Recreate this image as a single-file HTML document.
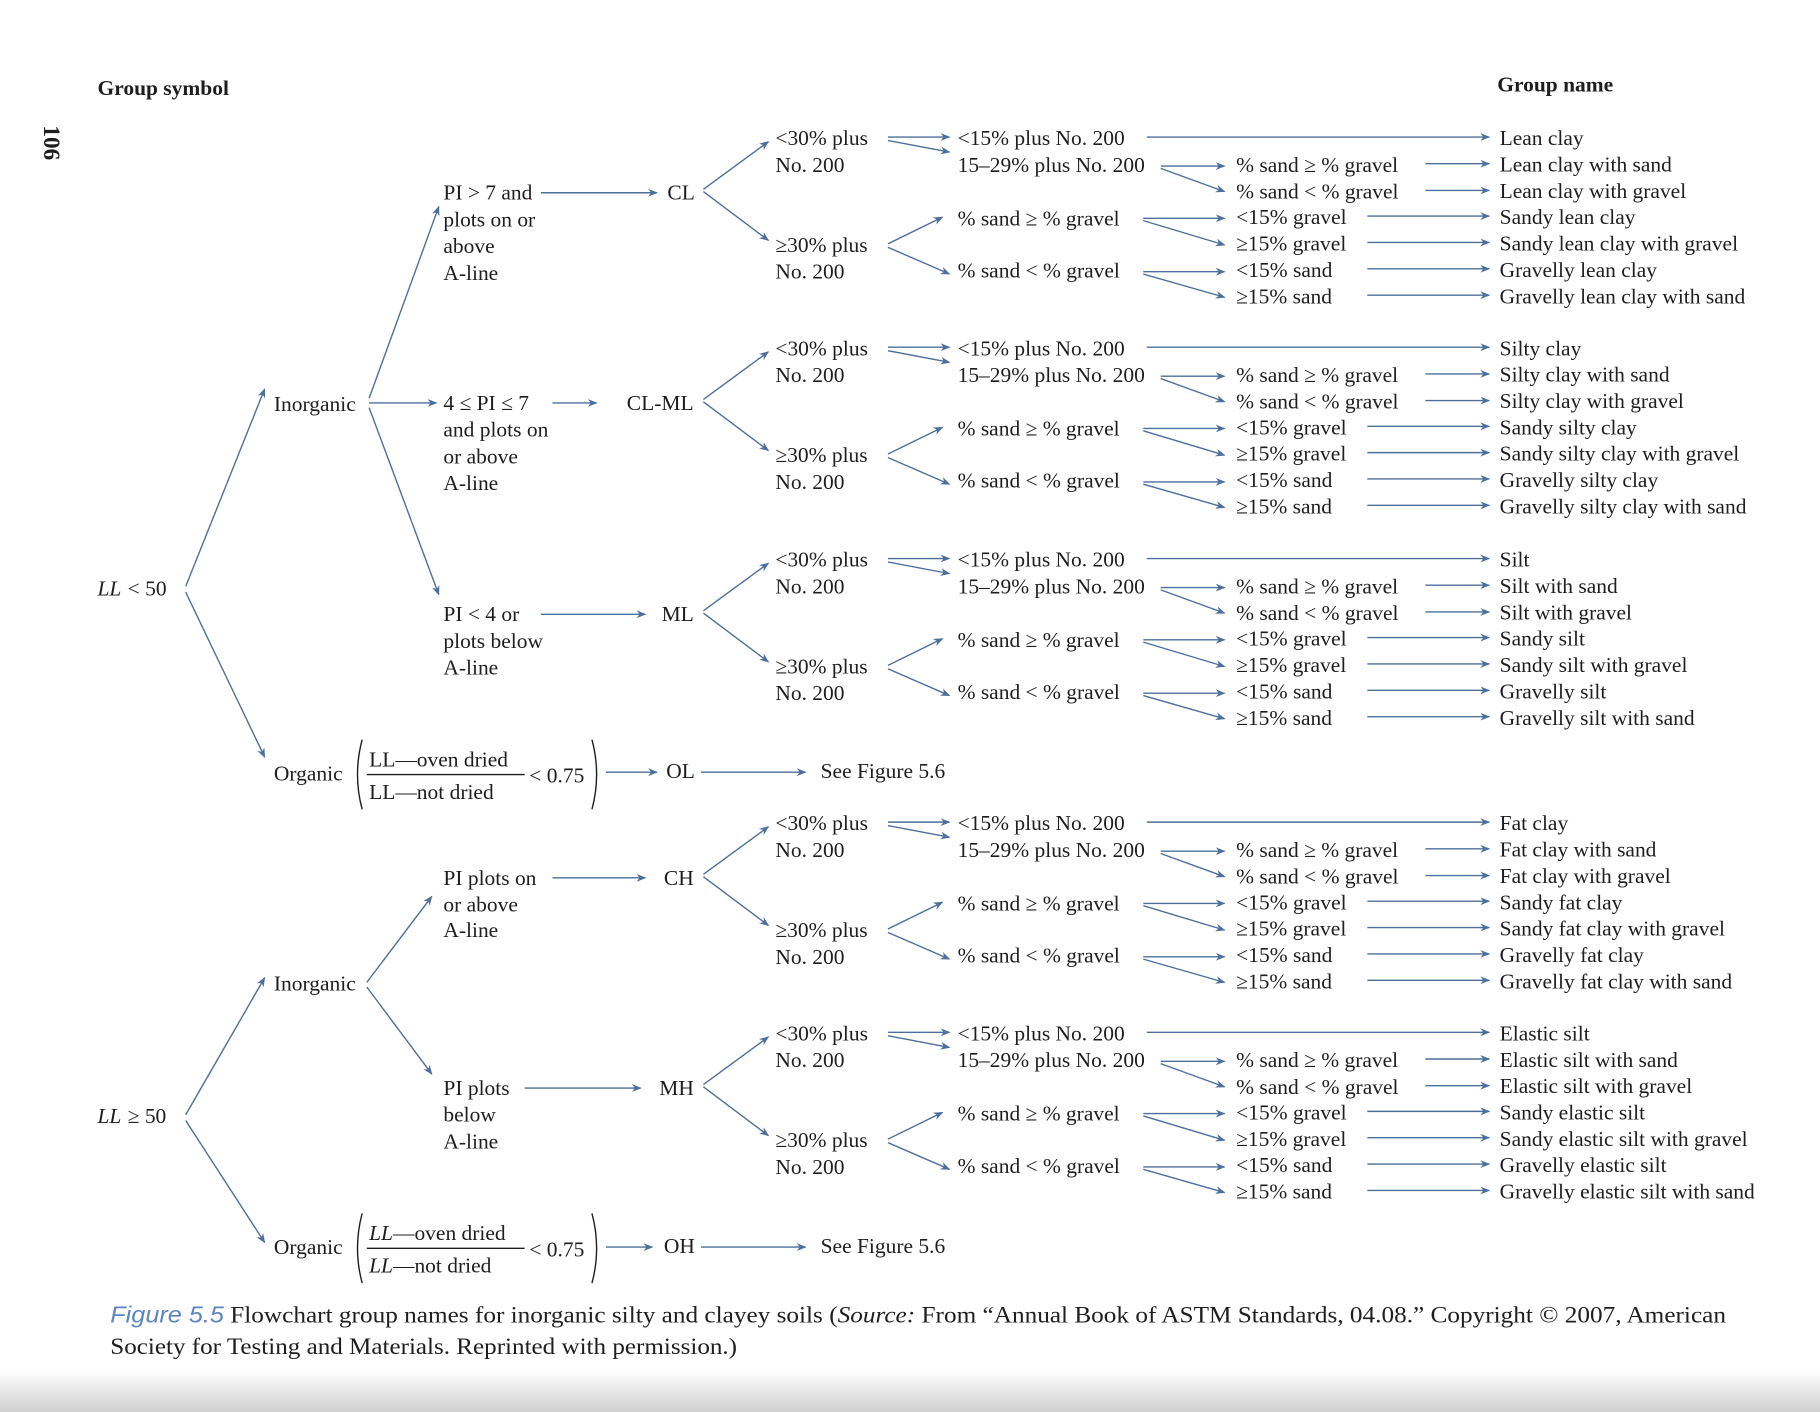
<!DOCTYPE html>
<html><head><meta charset="utf-8">
<style>
html,body{margin:0;padding:0;background:#fff;}
svg{display:block;}
text{font-family:"Liberation Serif",serif;font-size:18.5px;fill:#1e1e1e;}
</style></head>
<body>
<svg id="s" width="1820" height="1412" viewBox="0 0 1568 1216" preserveAspectRatio="none" xmlns="http://www.w3.org/2000/svg">
<defs><marker id="a" viewBox="0 0 10 10" refX="9" refY="5" markerWidth="7" markerHeight="7" orient="auto"><path d="M0,1 L10,5 L0,9 L3,5z" fill="#4d6f9c"/></marker>
<linearGradient id="sh" x1="0" y1="0" x2="0" y2="1"><stop offset="0" stop-color="#fff"/><stop offset="1" stop-color="#d0d0d0"/></linearGradient></defs>
<rect x="0" y="1180" width="1568" height="36" fill="url(#sh)"/>
<g id="g" stroke="#4d6f9c" stroke-width="1.2" fill="none"></g>
<g id="t"></g>
</svg>
<script>
var g=document.getElementById('g'),t=document.getElementById('t'),NS='http://www.w3.org/2000/svg';
function L(x1,y1,x2,y2,noArrow){var l=document.createElementNS(NS,'line');l.setAttribute('x1',x1);l.setAttribute('y1',y1);l.setAttribute('x2',x2);l.setAttribute('y2',y2);if(!noArrow)l.setAttribute('marker-end','url(#a)');g.appendChild(l);}
function T(x,y,s,extra){var e=document.createElementNS(NS,'text');e.setAttribute('x',x);e.setAttribute('y',y);if(extra)for(var k in extra)e.setAttribute(k,extra[k]);e.textContent=s;t.appendChild(e);return e;}
T(84,82,'Group symbol',{'font-weight':'bold'});
T(1290,79,'Group name',{'font-weight':'bold'});
var n=T(38,108,'106',{'font-weight':'bold','font-family':'Liberation Sans, sans-serif','transform':'rotate(90 38 108)'});n.style.fontSize='20px';
var blocks=[
 {y:120,sym:'CL',sx:575,names:['Lean clay','Lean clay with sand','Lean clay with gravel','Sandy lean clay','Sandy lean clay with gravel','Gravelly lean clay','Gravelly lean clay with sand']},
 {y:301,sym:'CL-ML',sx:540,names:['Silty clay','Silty clay with sand','Silty clay with gravel','Sandy silty clay','Sandy silty clay with gravel','Gravelly silty clay','Gravelly silty clay  with sand']},
 {y:483,sym:'ML',sx:570,names:['Silt','Silt with sand','Silt with gravel','Sandy silt','Sandy silt with gravel','Gravelly silt','Gravelly silt with sand']},
 {y:710,sym:'CH',sx:572,names:['Fat clay','Fat clay with sand','Fat clay with gravel','Sandy fat clay','Sandy fat clay with gravel','Gravelly fat clay','Gravelly fat clay with sand']},
 {y:891,sym:'MH',sx:568,names:['Elastic silt','Elastic silt with sand','Elastic silt with gravel','Sandy elastic silt','Sandy elastic silt with gravel','Gravelly elastic silt','Gravelly elastic silt with sand']}
];
blocks.forEach(function(b){
 var y=b.y, d=22.7;
 T(b.sx,y+52,b.sym);
 L(606,y+43,662,y+2); L(606,y+45,662,y+87);
 T(668,y+5,'<30% plus');T(668,y+28,'No. 200');
 T(668,y+97,'\u226530% plus');T(668,y+120,'No. 200');
 L(765,y-2,818,y-2); L(765,y+1,818,y+11);
 L(765,y+90,812,y+67); L(765,y+93,818,y+116);
 T(825,y+5,'<15% plus No. 200'); L(988,y-2,1283,y-2);
 T(825,y+28,'15\u201329% plus No. 200'); L(1000,y+23,1055,y+23); L(1000,y+25,1055,y+45);
 T(825,y+74,'% sand \u2265 % gravel'); L(985,y+68,1055,y+68); L(985,y+70,1055,y+91);
 T(825,y+119,'% sand < % gravel'); L(985,y+114,1055,y+114); L(985,y+116,1055,y+136);
 T(1065,y+28,'% sand \u2265 % gravel'); L(1228,y+21,1283,y+21);
 T(1065,y+51,'% sand < % gravel'); L(1228,y+44,1283,y+44);
 var rows=['<15% gravel','\u226515% gravel','<15% sand','\u226515% sand'];
 rows.forEach(function(r,i){var yy=y+(3+i)*d;T(1065,yy+5,r);L(1178,yy-2,1283,yy-2);});
 b.names.forEach(function(n,i){T(1292,y+i*d+5,n);});
});
T(84,513,'LL',{'font-style':'italic'});T(110,513,'< 50');
L(160,505,228,335);L(160,510,228,652);
T(236,354,'Inorganic');
L(318,343,378,178);L(318,347,376,347);L(318,351,378,512);
[['PI > 7 and',172],['plots on or',195],['above',218],['A-line',241]].forEach(function(a){T(382,a[1],a[0]);});
L(466,166,566,166);
[['4 \u2264 PI \u2264 7',353],['and plots on',376],['or above',399],['A-line',422]].forEach(function(a){T(382,a[1],a[0]);});
L(476,347,514,347);
[['PI < 4 or',535],['plots below',558],['A-line',581]].forEach(function(a){T(382,a[1],a[0]);});
L(466,529,556,529);
T(236,672,'Organic');
function paren(x,y,it){
 g.insertAdjacentHTML('beforeend','<path d="M'+(x+8)+','+(y-30)+' Q'+x+','+(y)+' '+(x+8)+','+(y+30)+'" stroke="#1e1e1e"/><path d="M'+(x+206)+','+(y-30)+' Q'+(x+214)+','+(y)+' '+(x+206)+','+(y+30)+'" stroke="#1e1e1e"/><line x1="'+(x+12)+'" y1="'+y+'" x2="'+(x+148)+'" y2="'+y+'" stroke="#1e1e1e"/>');
 var st=it?' font-style="italic"':'';
 var a=T(x+14,y-7,'');a.innerHTML='<tspan'+st+'>LL</tspan>\u2014oven dried';
 var b=T(x+14,y+21,'');b.innerHTML='<tspan'+st+'>LL</tspan>\u2014not dried';
 T(x+152,y+7,'< 0.75');
}
paren(304,667,false);
L(522,665,566,665);T(574,670,'OL');L(604,665,694,665);T(707,670,'See Figure 5.6');
T(84,967,'LL',{'font-style':'italic'});T(110,967,'\u2265 50');
L(160,960,228,842);L(160,965,228,1070);
T(236,853,'Inorganic');
L(316,846,372,772);L(316,850,372,925);
[['PI plots on',762],['or above',785],['A-line',807]].forEach(function(a){T(382,a[1],a[0]);});
L(476,756,556,756);
[['PI plots',943],['below',966],['A-line',989]].forEach(function(a){T(382,a[1],a[0]);});
L(452,937,552,937);
T(236,1080,'Organic');
paren(304,1075,true);
L(522,1074,562,1074);T(572,1079,'OH');L(604,1074,694,1074);T(707,1079,'See Figure 5.6');
var c=T(95,1139,'',{'textLength':'1392','lengthAdjust':'spacingAndGlyphs'});c.innerHTML='<tspan font-family="Liberation Sans, sans-serif" font-style="italic" fill="#5b86c0">Figure 5.5</tspan> Flowchart group names for inorganic silty and clayey soils (<tspan font-style="italic">Source:</tspan> From \u201cAnnual Book of ASTM Standards, 04.08.\u201d Copyright \u00a9 2007, American';
c.style.fontSize='20px';
var c2=T(95,1166,'Society for Testing and Materials. Reprinted with permission.)',{'textLength':'540','lengthAdjust':'spacingAndGlyphs'});c2.style.fontSize='20px';
</script>
</body></html>
